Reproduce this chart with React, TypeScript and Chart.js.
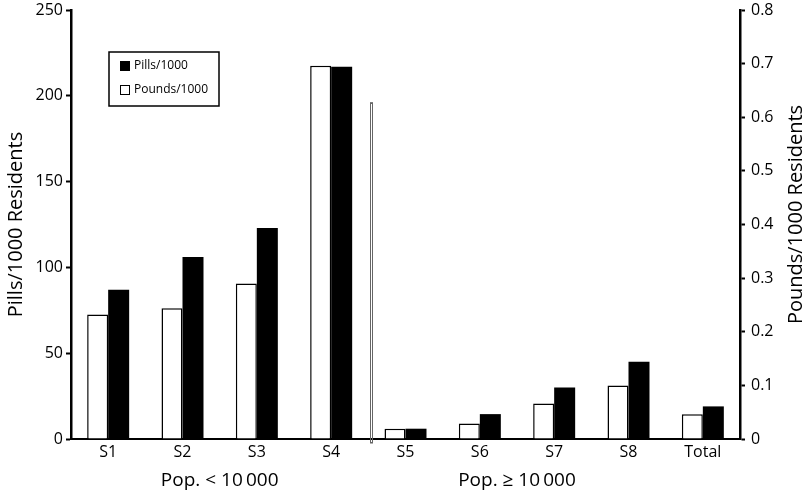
import React, { useEffect, useRef } from "react";
import { Chart, registerables } from "chart.js";

Chart.register(...registerables);

const categories = ["S1", "S2", "S3", "S4", "S5", "S6", "S7", "S8", "Total"];
const pillsPer1000 = [87, 106, 123, 217, 6, 14.5, 30, 45, 19];
const poundsPer1000 = [0.232, 0.244, 0.29, 0.696, 0.019, 0.029, 0.066, 0.1, 0.046];
const leftTicks = { min: 0, max: 250, step: 50 };
const rightTicks = { min: 0, max: 0.8, step: 0.1 };
const groupLabels = ["Pop. < 10\u2009000", "Pop. \u2265 10\u2009000"];
const groupRanges = [
  [0, 3],
  [4, 7],
];
const leftTitle = "Pills/1000 Residents";
const rightTitle = "Pounds/1000 Residents";
const seriesLabels = ["Pounds/1000", "Pills/1000"];

const FONT = "'Open Sans', sans-serif";

const overlay = {
  id: "overlay",
  afterDraw(chart: any) {
    const { ctx, chartArea, scales } = chart;
    const x = scales.x;
    ctx.save();
    // divider between groups
    const xd = Math.round((x.getPixelForValue(3) + x.getPixelForValue(4)) / 2 + 4);
    const yTop = scales.y.getPixelForValue(196);
    const yBot = chartArea.bottom + 4;
    ctx.strokeStyle = "#666";
    ctx.lineWidth = 1;
    ctx.strokeRect(xd - 1.5, yTop, 2, yBot - yTop);
    // group labels
    ctx.fillStyle = "#000";
    ctx.font = `19px ${FONT}`;
    ctx.textAlign = "center";
    ctx.textBaseline = "alphabetic";
    groupRanges.forEach(([a, b], i) => {
      const cx = (x.getPixelForValue(a) + x.getPixelForValue(b)) / 2;
      ctx.fillText(groupLabels[i], cx, chartArea.bottom + 47);
    });
    // right axis title (reads bottom to top)
    ctx.save();
    ctx.translate(chartArea.right + 56, (chartArea.top + chartArea.bottom) / 2 - 10);
    ctx.rotate(-Math.PI / 2);
    ctx.font = `20px ${FONT}`;
    ctx.textBaseline = "middle";
    ctx.textAlign = "center";
    ctx.fillText(rightTitle, 0, 0);
    ctx.restore();
    // legend box
    const lx = chartArea.left + 38;
    const ly = chartArea.top + 42;
    const lw = 110;
    const lh = 54;
    ctx.lineWidth = 1.5;
    ctx.strokeStyle = "#000";
    ctx.strokeRect(lx, ly, lw, lh);
    const items = chart.data.datasets.slice().reverse();
    ctx.font = `12px ${FONT}`;
    ctx.textAlign = "left";
    ctx.textBaseline = "middle";
    items.forEach((ds: any, i: number) => {
      const cy = ly + 14 + i * 24;
      ctx.fillStyle = ds.backgroundColor;
      ctx.fillRect(lx + 11, cy - 5, 10, 10);
      ctx.strokeStyle = "#000";
      ctx.lineWidth = 1;
      ctx.strokeRect(lx + 11.5, cy - 4.5, 9, 9);
      ctx.fillStyle = "#000";
      ctx.fillText(ds.label, lx + 25, cy);
    });
    ctx.restore();
  },
};

export default function App() {
  const ref = useRef<HTMLCanvasElement | null>(null);
  useEffect(() => {
    if (!ref.current) return;
    Chart.defaults.font.family = FONT;
    Chart.defaults.color = "#000";
    const chart = new Chart(ref.current, {
      type: "bar",
      data: {
        labels: categories,
        datasets: [
          {
            label: seriesLabels[0],
            data: poundsPer1000,
            yAxisID: "y1",
            backgroundColor: "#ffffff",
            borderColor: "#000000",
            borderWidth: 1.5,
            categoryPercentage: 0.565,
            barPercentage: 1,
          },
          {
            label: seriesLabels[1],
            data: pillsPer1000,
            yAxisID: "y",
            backgroundColor: "#000000",
            borderColor: "#000000",
            borderWidth: 0,
            categoryPercentage: 0.565,
            barPercentage: 1,
          },
        ],
      },
      options: {
        responsive: false,
        animation: false,
        layout: { padding: { top: 10, left: 0, right: 0, bottom: 0 } },
        plugins: {
          legend: { display: false },
          tooltip: { enabled: false },
        },
        scales: {
          x: {
            grid: { display: true, drawOnChartArea: false, drawTicks: false },
            border: { display: true, color: "#000", width: 2 },
            ticks: { color: "#000", font: { size: 16 }, padding: 4 },
            afterFit: (s: any) => {
              s.height = 54;
              s.paddingLeft = 0;
              s.paddingRight = 0;
            },
          },
          y: {
            position: "left",
            min: leftTicks.min,
            max: leftTicks.max,
            grid: {
              drawOnChartArea: false,
              drawTicks: true,
              tickLength: 5,
              tickColor: "#000",
              tickWidth: 2,
            },
            border: { display: true, color: "#000", width: 2.5 },
            ticks: { stepSize: leftTicks.step, color: "#000", font: { size: 16 }, padding: 3 },
            title: { display: true, text: leftTitle, color: "#000", font: { size: 20 } },
            afterFit: (s: any) => {
              s.width = 71;
              s.paddingTop = 0;
              s.paddingBottom = 0;
            },
          },
          y1: {
            position: "right",
            min: rightTicks.min,
            max: rightTicks.max,
            grid: {
              drawOnChartArea: false,
              drawTicks: true,
              tickLength: 5,
              tickColor: "#000",
              tickWidth: 2,
            },
            border: { display: true, color: "#000", width: 2.5 },
            ticks: {
              stepSize: rightTicks.step,
              color: "#000",
              font: { size: 16 },
              padding: 6,
              callback: (v: any) => String(+Number(v).toFixed(1)),
            },
            afterFit: (s: any) => {
              s.width = 70;
              s.paddingTop = 0;
              s.paddingBottom = 0;
            },
          },
        },
      },
      plugins: [overlay],
    } as any);
    return () => chart.destroy();
  }, []);
  return (
    <div style={{ position: "fixed", left: 0, top: 0, width: 810, height: 493, background: "#fff" }}>
      <canvas ref={ref} width={810} height={493} />
    </div>
  );
}
